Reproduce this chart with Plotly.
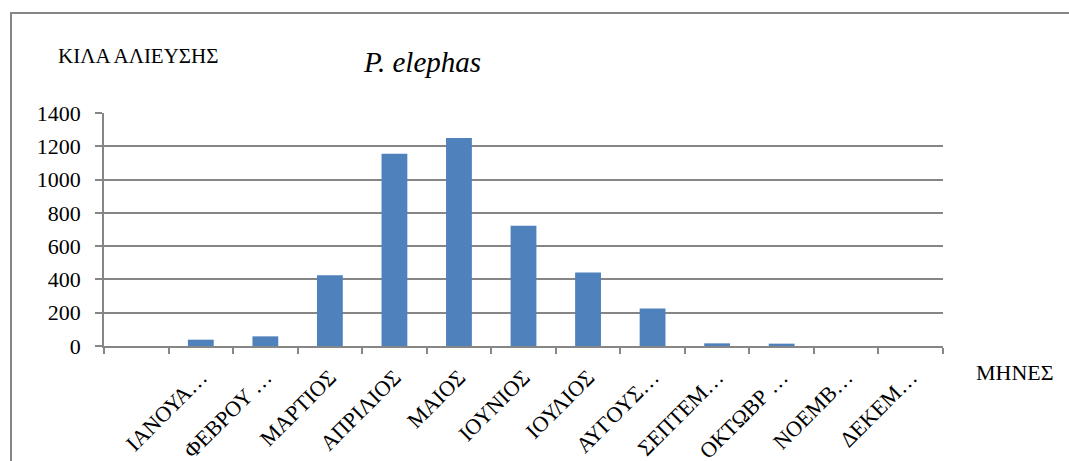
import plotly.graph_objects as go

categories = [" ", "ΙΑΝΟΥΑ…", "ΦΕΒΡΟΥ …", "ΜΑΡΤΙΟΣ", "ΑΠΡΙΛΙΟΣ", "ΜΑΙΟΣ", "ΙΟΥΝΙΟΣ",
              "ΙΟΥΛΙΟΣ", "ΑΥΓΟΥΣ…", "ΣΕΠΤΕΜ…", "ΟΚΤΩΒΡ …", "ΝΟΕΜΒ…", "ΔΕΚΕΜ…"]
kilos = [None, 38, 58, 425, 1155, 1250, 723, 441, 225, 16, 14, 0, 0]
y_ticks = [0, 200, 400, 600, 800, 1000, 1200, 1400]

FONT = "Liberation Serif, Times New Roman, serif"
GRAY = "#868686"

W, H = 1069, 461
L, R, T, B = 104, 126, 113, 115
pw, ph = W - L - R, H - T - B

def px(x):
    return (x - L) / pw

def py(y):
    return (H - B - y) / ph

fig = go.Figure()
fig.add_trace(go.Bar(
    x=categories, y=kilos,
    marker=dict(color="#4F81BD", line=dict(width=0)),
    showlegend=False,
))

fig.update_layout(
    width=W, height=H,
    margin=dict(l=L, r=R, t=T, b=B, autoexpand=False),
    paper_bgcolor="white", plot_bgcolor="white",
    bargap=0.6,
    font=dict(family=FONT, color="black", size=20),
    xaxis=dict(
        type="category", categoryorder="array", categoryarray=categories,
        tickson="boundaries", ticks="outside", ticklen=6, tickcolor=GRAY, tickwidth=1.5,
        showline=True, linecolor=GRAY, linewidth=1.5, showgrid=False,
        tickangle=-45, ticklabelstandoff=8, automargin=False,
        tickfont=dict(family=FONT, size=22, color="black"),
    ),
    yaxis=dict(
        range=[0, 1400], tickvals=y_ticks, ticks="outside", ticklen=7,
        tickcolor=GRAY, tickwidth=1.5, showline=True, linecolor=GRAY, linewidth=1.5,
        showgrid=True, gridcolor=GRAY, gridwidth=1.5, zeroline=False,
        ticklabelstandoff=10, automargin=False,
        tickfont=dict(family=FONT, size=22, color="black"),
    ),
    annotations=[
        dict(text="ΚΙΛΑ ΑΛΙΕΥΣΗΣ", xref="paper", yref="paper", x=px(137.5), y=py(56),
             xanchor="center", yanchor="middle",
             showarrow=False, font=dict(family=FONT, size=21, color="black")),
        dict(text="<i>P. elephas</i>", xref="paper", yref="paper", x=px(422), y=py(62),
             xanchor="center", yanchor="middle",
             showarrow=False, font=dict(family=FONT, size=29, color="black")),
        dict(text="ΜΗΝΕΣ", xref="paper", yref="paper", x=px(1015), y=py(372),
             xanchor="center", yanchor="middle",
             showarrow=False, font=dict(family=FONT, size=22, color="black")),
    ],
    shapes=[
        dict(type="rect", xref="paper", yref="paper",
             x0=px(11), y0=py(13), x1=px(1200), y1=py(600),
             line=dict(color=GRAY, width=2), fillcolor="rgba(0,0,0,0)", layer="below"),
    ],
)

fig.write_html("out.html", config={"displayModeBar": False},
               post_script="document.body.style.margin='0';")
